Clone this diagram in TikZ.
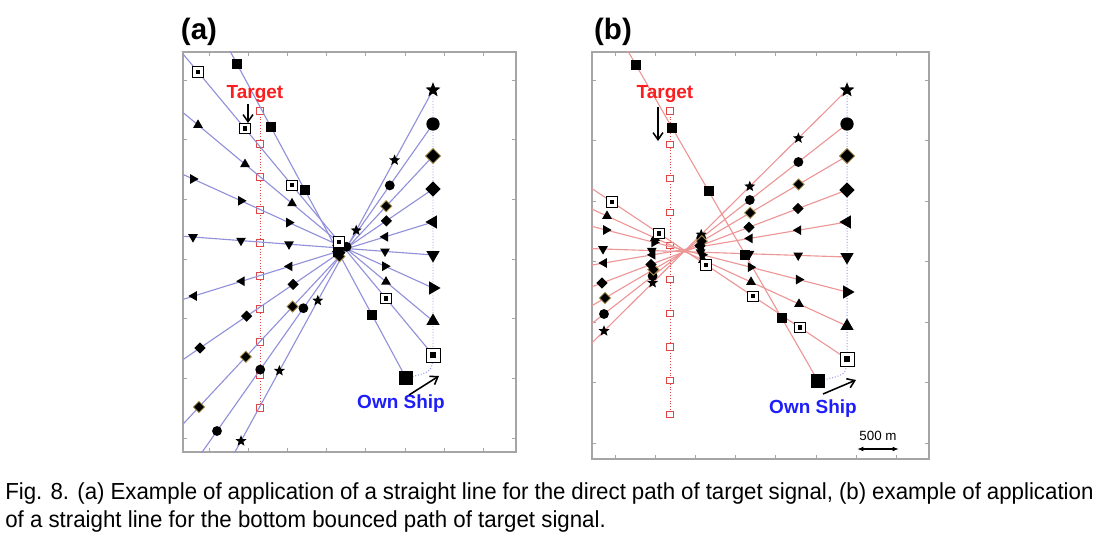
\documentclass[tikz,border=0pt]{standalone}
\usepackage{fontspec}
\setmainfont{Liberation Sans}
\newfontfamily\capfont[FakeStretch=0.96]{Liberation Sans}
\usetikzlibrary{shapes.geometric,arrows.meta}

\definecolor{bline}{RGB}{145,145,218}
\definecolor{rline}{RGB}{236,150,150}
\definecolor{ownblue}{RGB}{150,150,235}
\definecolor{tgtred}{RGB}{225,70,70}
\definecolor{framegray}{RGB}{165,165,165}
\definecolor{dring}{RGB}{175,150,80}
\definecolor{lblred}{RGB}{250,30,30}
\definecolor{lblblue}{RGB}{30,30,250}

\begin{document}
\begin{tikzpicture}[x=0.025cm, y=-0.025cm,
        mk/.style={inner sep=0pt, outer sep=0pt, fill=black},
        mstar/.style={mk, star, star points=5, star point ratio=2.3, minimum size=8.2pt},
        mcirc/.style={mk, circle, minimum size=7pt},
        mdia/.style={mk, diamond, minimum size=8pt},
        mdiao/.style={mk, diamond, minimum size=8pt, draw=dring, line width=0.6pt},
        mtri/.style={mk, regular polygon, regular polygon sides=3, minimum size=8pt},
        mltri/.style={mtri, shape border rotate=90},
        mdtri/.style={mtri, shape border rotate=180},
        mrtri/.style={mtri, shape border rotate=270},
        mutri/.style={mtri},
        msq/.style={mk, rectangle, minimum size=7.2pt},
        msqsq/.style={mk, rectangle, minimum size=7.4pt, fill=white, draw=black, line width=0.6pt,
            path picture={\fill[black] ([shift={(-1.6pt,-1.6pt)}]path picture bounding box.center)
                rectangle ([shift={(1.6pt,1.6pt)}]path picture bounding box.center);}},
        own/.style={scale=1.35, transform shape},
        tgtsq/.style={rectangle, draw=tgtred, fill=white, line width=0.7pt, minimum size=4.4pt, inner sep=0pt},
        frame/.style={draw=framegray, line width=0.9pt},
        tick/.style={draw=framegray, line width=0.6pt},
        track/.style={line width=0.7pt, dash pattern=on 0.7pt off 1.3pt},
        lbl/.style={font=\bfseries\fontsize{13.5}{15}\selectfont},
        arr/.style={-{Straight Barb[length=5pt, width=7pt]}, line width=1.1pt}
    ]
    \useasboundingbox (0,0) rectangle (1099,538);

    % panel labels
    \node[font=\bfseries\fontsize{21}{24}\selectfont] (pa) at (199,32) {(a)};
    \node[font=\bfseries\fontsize{21}{24}\selectfont] (pb) at (613,32) {(b)};

    % ---- panel (a): direct path ----
    \draw[frame] (183,52) rectangle (516,452);
    \foreach \x in {0,...,7} {
        \draw[tick] ({209+39.2*\x},52) -- ++(0,4);
        \draw[tick] ({209+39.2*\x},452) -- ++(0,-4);
    }
    \foreach \y in {0,...,6} {
        \draw[tick] (183,{80+59.7*\y}) -- ++(4,0);
        \draw[tick] (516,{80+59.7*\y}) -- ++(-4,0);
    }

    % target track
    \draw[track, tgtred] (260,111) -- (260,408);
    \foreach \k in {0,...,9}
        \node[tgtsq] (ta\k) at (260,{111+33*\k}) {};

    % own ship track
    \draw[track, ownblue] (433,90) -- (433,355) .. controls (432,372) .. (406,378);

    % bearing lines
    \begin{scope}
        \clip (183,52) rectangle (516,452);
        \foreach \px/\py/\dx/\dy in {433/90/-38.4/70.2, 433/124/-43.2/61.4, 433/156/-46.8/50.2,
                433/189/-46.6/31.8, 433/222/-47.8/14.8, 433/255/-48/-3.6, 433/288/-48/-21.8,
                433/321/-47/-39.2, 433/355/-47/-56.6, 406/378/-33.8/-62.8}
            \draw[bline, line width=0.8pt] (\px,\py) -- ++({6*\dx},{6*\dy});
    \end{scope}
    \foreach \px/\py/\dx/\dy/\m in {433/90/-38.4/70.2/mstar, 433/124/-43.2/61.4/mcirc,
            433/156/-46.8/50.2/mdiao, 433/189/-46.6/31.8/mdia, 433/222/-47.8/14.8/mltri,
            433/255/-48/-3.6/mdtri, 433/288/-48/-21.8/mrtri, 433/321/-47/-39.2/mutri,
            433/355/-47/-56.6/msqsq, 406/378/-33.8/-62.8/msq} {
        \foreach \k in {1,...,5}
            \node[\m] at ({\px+\k*\dx},{\py+\k*\dy}) {};
        \node[\m, own] at (\px,\py) {};
    }

    \node[lbl, lblred] (tga) at (255,94) {Target};
    \coordinate (tgaend) at (248,123);
    \draw[arr] (248,104) -- (tgaend);
    \node[lbl, lblblue] (osa) at (401,404) {Own Ship};
    \coordinate (osaend) at (439,376);
    \draw[arr] (409,395) -- (osaend);

    % ---- panel (b): bottom bounced path ----
    \draw[frame] (592,52) rectangle (929,459);
    \foreach \x in {0,...,7} {
        \draw[tick] ({615+40.2*\x},52) -- ++(0,4);
        \draw[tick] ({615+40.2*\x},459) -- ++(0,-4);
    }
    \foreach \y in {0,...,6} {
        \draw[tick] (592,{80+60.5*\y}) -- ++(4,0);
        \draw[tick] (929,{80+60.5*\y}) -- ++(-4,0);
    }

    % target track
    \draw[track, tgtred] (670,111) -- (670,414);
    \foreach \k in {0,...,9}
        \node[tgtsq] (tb\k) at (670,{111+33.7*\k}) {};

    % own ship track
    \draw[track, ownblue] (847,90) -- (847,359) .. controls (846,375) .. (818,381);

    % bearing lines
    \begin{scope}
        \clip (592,52) rectangle (929,459);
        \foreach \px/\py/\dx/\dy in {847/90/-48.6/48.2, 847/124/-48.6/38, 847/156/-48.4/28.4,
                847/190/-49/18.6, 847/222/-48.6/8.2, 847/257/-48.8/-1.6, 847/292/-48.2/-12.4,
                847/326/-48/-22, 847/359/-47/-31.4, 818/381/-36.4/-63.2}
            \draw[rline, line width=0.8pt] (\px,\py) -- ++({6*\dx},{6*\dy});
    \end{scope}
    \foreach \px/\py/\dx/\dy/\m in {847/90/-48.6/48.2/mstar, 847/124/-48.6/38/mcirc,
            847/156/-48.4/28.4/mdiao, 847/190/-49/18.6/mdia, 847/222/-48.6/8.2/mltri,
            847/257/-48.8/-1.6/mdtri, 847/292/-48.2/-12.4/mrtri, 847/326/-48/-22/mutri,
            847/359/-47/-31.4/msqsq, 818/381/-36.4/-63.2/msq} {
        \foreach \k in {1,...,5}
            \node[\m] at ({\px+\k*\dx},{\py+\k*\dy}) {};
        \node[\m, own] at (\px,\py) {};
    }

    \node[lbl, lblred] (tgb) at (665,94) {Target};
    \coordinate (tgbend) at (658,141);
    \draw[arr] (658,107) -- (tgbend);
    \node[lbl, lblblue] (osb) at (813,409) {Own Ship};
    \coordinate (osbend) at (856,380);
    \draw[arr] (823,394) -- (osbend);

    % scale bar
    \node[font=\fontsize{9.5}{11}\selectfont] (sc) at (878,436) {500 m};
    \coordinate (scl) at (857,449);
    \coordinate (scr) at (899,449);
    \draw[{Latex[length=4.5pt]}-{Latex[length=4.5pt]}, line width=0.9pt] (scl) -- (scr);

    % caption
    \node[anchor=base west, inner sep=0pt, font=\capfont\fontsize{16.5}{19}\selectfont] (cap1) at (5,499)
        {\makebox[27.2cm][s]{Fig. 8. (a) Example of application of a straight line for the direct path of target signal, (b) example of application}};
    \node[anchor=base west, inner sep=0pt, font=\capfont\fontsize{16.5}{19}\selectfont] (cap2) at (5,527)
        {of a straight line for the bottom bounced path of target signal.};
\end{tikzpicture}
\end{document}
